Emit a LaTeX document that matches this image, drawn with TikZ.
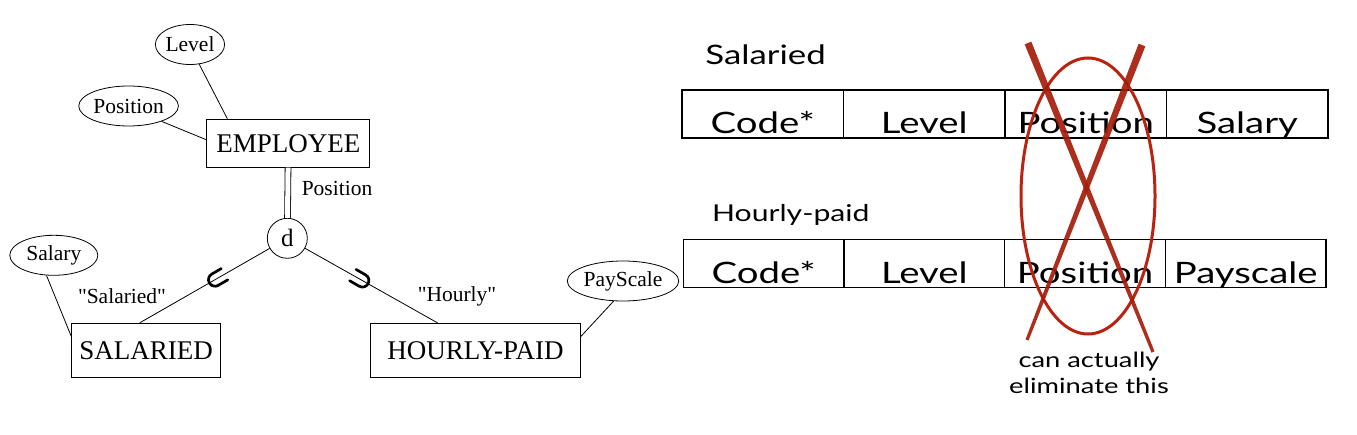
\documentclass[tikz,border=0pt]{standalone}
\usepackage{fontspec}
\setmainfont{Liberation Serif}
\newfontfamily\erfont{Liberation Serif}
\newfontfamily\slidefont[FakeStretch=1.3]{Lato}
\usetikzlibrary{positioning,shapes.geometric,calc}
\definecolor{penred}{RGB}{165,28,10}
\definecolor{ringred}{RGB}{185,35,18}
\tikzset{
  entity/.style={draw, rectangle, line width=0.9pt, inner sep=0pt, minimum height=54pt, font=\erfont\fontsize{27}{32}\selectfont},
  attr/.style={draw, ellipse, line width=0.8pt, inner sep=0pt, minimum height=40pt, font=\erfont\fontsize{21.5}{26}\selectfont},
  label/.style={font=\erfont\fontsize{21.5}{26}\selectfont},
  cell/.style={draw, line width=1.3pt, inner sep=0pt, outer sep=0pt, text height=44pt, text depth=4pt, font=\slidefont\fontsize{29.5}{32}\selectfont},
  subset/.style={line width=2.7pt, line cap=round},
  stroke/.style={fill=penred, opacity=0.92},
}
\begin{document}
\begin{tikzpicture}[x=1pt, y=-1pt, line width=0.8pt]
    \useasboundingbox (0,0) rectangle (1357,435);

    % EER diagram
    \node (emp) [entity, minimum width=163pt, minimum height=48pt] at (288.3,143.2) {EMPLOYEE};
    \node (sal) [entity, minimum width=149pt] at (146.2,350.3) {SALARIED};
    \node (hp) [entity, minimum width=210pt] at (475.5,350.3) {HOURLY-PAID};
    \node (d) [circle, draw, inner sep=0pt, minimum size=40pt, font=\erfont\fontsize{25}{30}\selectfont] at (287.3,238.3) {d};
    \node (lvl) [attr, minimum width=61pt] at (190,44.5) {Level};
    \node (pos) [attr, minimum width=89pt] at (128.6,106) {Position};
    \node (sly) [attr, minimum width=88pt] at (53.8,255.3) {Salary};
    \node (pys) [attr, minimum width=101pt] at (623,281) {PayScale};
    \node (poslab) [label] at (337,188) {Position};
    \node (sallab) [label] at (122,296) {\char"22 Salaried\char"22};
    \node (hplab) [label] at (457,296) {\char"22 Hourly\char"22};

    \coordinate (salin) at ([xshift=-6.5pt]sal.north);
    \coordinate (hpin) at ([xshift=-38pt]hp.north);
    \path [-] (emp) edge [double, double distance=5pt] (d)
              (d) edge (salin) edge (hpin)
              (lvl.-65) edge ([xshift=21pt]emp.north west)
              (pos.-25) edge ([yshift=-21pt]emp.north west)
              (sly.-110) edge ([yshift=-13.5pt]sal.north west)
              (pys.-115) edge ([yshift=-13.5pt]hp.north east);

    \coordinate (u1) at ($(d)!0.49!(salin)$);
    \coordinate (u2) at ($(d)!0.5!(hpin)$);
    \begin{scope}[shift={(u1)}, rotate=30]
        \draw [subset] (11,6.5) -- (0,6.5) arc [start angle=90, end angle=270, radius=6.5] -- (11,-6.5);
    \end{scope}
    \begin{scope}[shift={(u2)}, rotate=150]
        \draw [subset] (11,6.5) -- (0,6.5) arc [start angle=90, end angle=270, radius=6.5] -- (11,-6.5);
    \end{scope}

    % relations
    \node (saltitle) [anchor=base west, inner sep=0pt, font=\slidefont\fontsize{26.8}{30}\selectfont] at (705,64.3) {Salaried};
    \node (s1) [cell, minimum width=161.5pt, anchor=north west] at (682,90) {Code*};
    \node (s2) [cell, minimum width=161.5pt, right=0pt of s1] {Level};
    \node (s3) [cell, minimum width=161.5pt, right=0pt of s2] {Position};
    \node (s4) [cell, minimum width=161.5pt, right=0pt of s3] {Salary};

    \node (hptitle) [anchor=base west, inner sep=0pt, font=\slidefont\fontsize{23.2}{28}\selectfont] at (711.7,221.7) {Hourly-paid};
    \node (h1) [cell, minimum width=160.7pt, anchor=north west] at (683.3,239.5) {Code*};
    \node (h2) [cell, minimum width=160.7pt, right=0pt of h1] {Level};
    \node (h3) [cell, minimum width=160.7pt, right=0pt of h2] {Position};
    \node (h4) [cell, minimum width=160.7pt, right=0pt of h3] {Payscale};

    % crossed out
    \draw [ringred, line width=3pt] (1088,196) ellipse [x radius=67, y radius=138];
    \coordinate (xa) at (1028,43);
    \coordinate (xb) at (1153,352);
    \coordinate (xc) at (1142,45);
    \coordinate (xd) at (1027,340);
    \fill [stroke] ($(xa)!3.6pt!90:(xb)$) -- ($(xa)!3.6pt!-90:(xb)$) -- ($(xb)!1.6pt!90:(xa)$) -- ($(xb)!1.6pt!-90:(xa)$) -- cycle;
    \fill [stroke] ($(xc)!3.6pt!90:(xd)$) -- ($(xc)!3.6pt!-90:(xd)$) -- ($(xd)!1.6pt!90:(xc)$) -- ($(xd)!1.6pt!-90:(xc)$) -- cycle;
    \node (note) [anchor=north, inner sep=0pt, align=center, font=\slidefont\fontsize{21}{26.7}\selectfont] at (1089,351.4) {can actually\\eliminate this};
\end{tikzpicture}
\end{document}
